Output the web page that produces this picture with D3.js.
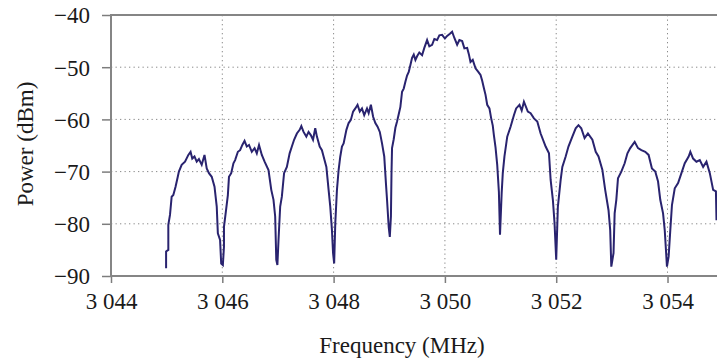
<!DOCTYPE html>
<html>
<head>
<meta charset="utf-8">
<script src="https://cdn.jsdelivr.net/npm/d3@7/dist/d3.min.js"></script>
<style>
  body { margin: 0; background: #fff; }
  #chart text { font-family: "Liberation Serif", "Times New Roman", serif; fill: #1a1a1a; }
</style>
</head>
<body>
<div id="chart"></div>
<script>
/** Spectrum trace */
const freqMHz = [
  3044.99, 3044.99, 3045.03, 3045.03, 3045.06, 3045.09, 3045.12, 3045.16, 3045.20, 3045.22,
  3045.27, 3045.33, 3045.39, 3045.43, 3045.46, 3045.50, 3045.54, 3045.58, 3045.63, 3045.68,
  3045.72, 3045.76, 3045.81, 3045.86, 3045.90, 3045.92, 3045.96, 3045.98, 3046.01, 3046.03,
  3046.03, 3046.06, 3046.10, 3046.12, 3046.16, 3046.20, 3046.23, 3046.28, 3046.32, 3046.36,
  3046.40, 3046.44, 3046.48, 3046.53, 3046.58, 3046.62, 3046.66, 3046.71, 3046.76, 3046.83,
  3046.88, 3046.92, 3046.95, 3046.97, 3046.99, 3047.01, 3047.04, 3047.07, 3047.11, 3047.16,
  3047.21, 3047.25, 3047.29, 3047.34, 3047.39, 3047.42, 3047.46, 3047.51, 3047.55, 3047.59,
  3047.63, 3047.67, 3047.70, 3047.75, 3047.79, 3047.82, 3047.87, 3047.91, 3047.94, 3047.97,
  3047.99, 3048.01, 3048.03, 3048.06, 3048.09, 3048.12, 3048.15, 3048.18, 3048.23, 3048.27,
  3048.31, 3048.35, 3048.39, 3048.43, 3048.47, 3048.51, 3048.55, 3048.60, 3048.63, 3048.67,
  3048.71, 3048.75, 3048.79, 3048.83, 3048.87, 3048.91, 3048.94, 3048.96, 3048.99, 3049.01,
  3049.03, 3049.04, 3049.05, 3049.08, 3049.11, 3049.14, 3049.17, 3049.20, 3049.23, 3049.26,
  3049.29, 3049.32, 3049.35, 3049.38, 3049.41, 3049.44, 3049.47, 3049.50, 3049.54, 3049.59,
  3049.63, 3049.68, 3049.72, 3049.77, 3049.81, 3049.86, 3049.90, 3049.95, 3050.00, 3050.04,
  3050.09, 3050.13, 3050.17, 3050.22, 3050.26, 3050.31, 3050.35, 3050.40, 3050.43, 3050.46,
  3050.50, 3050.55, 3050.60, 3050.64, 3050.67, 3050.70, 3050.73, 3050.76, 3050.80, 3050.83,
  3050.86, 3050.88, 3050.91, 3050.94, 3050.97, 3050.99,
  3051.02, 3051.04, 3051.07, 3051.12, 3051.18, 3051.24, 3051.28, 3051.34, 3051.38, 3051.42,
  3051.49, 3051.54, 3051.60, 3051.66, 3051.72, 3051.81, 3051.87, 3051.90, 3051.94, 3051.97,
  3052.00, 3052.03, 3052.08, 3052.11, 3052.17, 3052.22, 3052.29, 3052.35, 3052.40, 3052.45,
  3052.51, 3052.57, 3052.65, 3052.71, 3052.76, 3052.83, 3052.88, 3052.94, 3052.97, 3052.99,
  3053.03, 3053.05, 3053.08, 3053.11, 3053.17, 3053.23, 3053.28, 3053.33, 3053.41, 3053.47,
  3053.53, 3053.60, 3053.66, 3053.72, 3053.78, 3053.83, 3053.87, 3053.92, 3053.95, 3053.99,
  3054.02, 3054.05, 3054.08, 3054.13, 3054.19, 3054.25, 3054.31, 3054.38, 3054.41, 3054.46,
  3054.52, 3054.58, 3054.64, 3054.70, 3054.76, 3054.82, 3054.87, 3054.88
];
const powerDbm = [
  -88.5, -85.3, -85.0, -80.2, -78.3, -74.8, -74.5, -72.9, -71.0, -70.0,
  -68.7, -68.1, -66.8, -66.2, -67.5, -67.1, -68.1, -67.6, -68.7, -66.8,
  -69.4, -70.3, -71.0, -72.9, -76.7, -81.8, -83.1, -87.6, -87.9, -84.4,
  -80.6, -78.0, -74.5, -71.0, -70.3, -68.4, -67.8, -66.2, -65.9, -64.9,
  -64.1, -65.2, -64.9, -66.2, -65.5, -66.5, -64.9, -66.8, -68.1, -69.7,
  -73.5, -75.4, -78.6, -86.9, -87.9, -83.1, -76.7, -74.8, -70.3, -69.1,
  -66.5, -65.2, -63.9, -62.7, -62.0, -61.3, -62.4, -63.3, -62.4, -63.0,
  -63.9, -61.7, -63.3, -65.2, -65.9, -67.1, -69.1, -73.5, -76.7, -81.2,
  -85.6, -87.6, -79.9, -73.5, -69.7, -67.1, -65.2, -64.6, -62.0, -60.7,
  -60.1, -58.5, -57.9, -57.2, -58.5, -57.9, -59.2, -57.9, -58.8, -57.2,
  -59.5, -60.7, -61.4, -62.4, -64.6, -67.1, -72.2, -75.4, -80.6, -82.5,
  -78.6, -70.5, -65.5, -63.8, -61.6, -60.4, -59.0, -57.6, -54.7, -54.1,
  -52.8, -51.6, -50.9, -49.6, -48.2, -47.6, -48.6, -47.9, -47.2, -47.7,
  -46.3, -44.8, -46.0, -45.7, -44.6, -44.8, -43.9, -43.8, -44.5, -44.0,
  -43.6, -43.2, -44.4, -45.7, -44.8, -45.0, -46.4, -46.3, -47.5, -49.0,
  -48.6, -50.2, -50.9, -51.5, -52.6, -54.0, -55.3, -57.2, -57.9, -59.7,
  -61.2, -63.0, -65.4, -68.7, -73.9, -82.1,
  -74.1, -70.3, -67.1, -63.3, -61.4, -59.2, -57.9, -57.2, -58.3, -56.6,
  -58.5, -58.8, -59.8, -60.4, -62.7, -65.2, -66.5, -71.6, -75.4, -79.9,
  -86.9, -76.7, -71.6, -69.1, -67.1, -65.2, -63.3, -61.7, -61.1, -61.7,
  -63.6, -62.7, -63.9, -66.2, -67.1, -69.7, -73.5, -77.4, -81.2, -88.2,
  -85.6, -78.0, -75.4, -71.3, -70.0, -68.4, -66.5, -65.5, -64.3, -65.5,
  -65.9, -66.2, -66.8, -69.4, -70.0, -71.9, -75.4, -78.0, -81.2, -88.2,
  -86.3, -81.2, -76.4, -73.2, -72.2, -70.3, -68.4, -67.1, -66.2, -67.5,
  -68.1, -67.8, -69.1, -68.1, -70.3, -73.5, -73.8, -79.3
];
const xTicks = [3044, 3046, 3048, 3050, 3052, 3054];
const yTicks = [-90, -80, -70, -60, -50, -40];

/** Graph configs */
const width = 717;
const height = 362;
const margin = { top: 15, right: 0, bottom: 86, left: 111 };

const drawSpectrum = () => {
  const data = freqMHz.map((f, i) => ({ f: f, p: powerDbm[i] }));

  const svg = d3
    .select("#chart")
    .append("svg")
    .attr("width", width)
    .attr("height", height);

  const xScale = d3
    .scaleLinear()
    .domain([3044, 3054.9])
    .range([margin.left, 717.6]);

  const yScale = d3
    .scaleLinear()
    .domain([-90, -40])
    .range([height - margin.bottom, margin.top]);

  /** Dotted grid */
  const grid = svg.append("g").attr("stroke", "#8a8a8a").attr("stroke-dasharray", "1.3,3.2");
  grid
    .selectAll("line.v")
    .data(xTicks.slice(1))
    .enter()
    .append("line")
    .attr("x1", (d) => xScale(d))
    .attr("x2", (d) => xScale(d))
    .attr("y1", yScale(-40))
    .attr("y2", yScale(-90));
  grid
    .selectAll("line.h")
    .data(yTicks.slice(1, -1))
    .enter()
    .append("line")
    .attr("x1", xScale(3044))
    .attr("x2", width)
    .attr("y1", (d) => yScale(d))
    .attr("y2", (d) => yScale(d));

  /** Axes */
  const fmtX = (d) => String(d).replace(/^(\d)(\d{3})$/, "$1 $2");
  const xAxis = d3.axisBottom(xScale).tickValues(xTicks).tickSize(7).tickPadding(9).tickFormat(fmtX);
  const yAxis = d3.axisLeft(yScale).tickValues(yTicks).tickSize(9).tickPadding(12).tickFormat(d3.format("d"));

  const gx = svg
    .append("g")
    .attr("transform", `translate(0, ${yScale(-90)})`)
    .call(xAxis);
  const gy = svg
    .append("g")
    .attr("transform", `translate(${xScale(3044)}, 0)`)
    .call(yAxis);

  [gx, gy].forEach((g) => {
    g.select(".domain").remove();
    g.selectAll(".tick line").attr("stroke", "#7d7d7d").attr("stroke-width", 1.5);
    g.selectAll(".tick text").attr("font-size", 23).attr("fill", "#1a1a1a");
  });
  gx.selectAll(".tick text").attr("dy", "0.72em");
  gy.selectAll(".tick text").attr("dy", "0.34em");

  /** Frame: top, left, bottom */
  const frame = svg.append("g").attr("stroke", "#858585").attr("stroke-width", 2).attr("fill", "none");
  frame.append("line").attr("x1", xScale(3044)).attr("x2", width).attr("y1", yScale(-40)).attr("y2", yScale(-40));
  frame.append("line").attr("x1", xScale(3044)).attr("x2", width).attr("y1", yScale(-90)).attr("y2", yScale(-90));
  frame.append("line").attr("x1", xScale(3044)).attr("x2", xScale(3044)).attr("y1", yScale(-40) - 1).attr("y2", yScale(-90) + 1);

  /** Trace */
  const line = d3
    .line()
    .x((d) => xScale(d.f))
    .y((d) => yScale(d.p));

  svg
    .append("path")
    .datum(data)
    .attr("fill", "none")
    .attr("stroke", "#29236f")
    .attr("stroke-width", 2)
    .attr("stroke-linejoin", "miter")
    .attr("d", line);

  /** Axis titles */
  svg
    .append("text")
    .attr("x", 402)
    .attr("y", 353)
    .attr("text-anchor", "middle")
    .attr("font-size", 23)
    .text("Frequency (MHz)");

  svg
    .append("text")
    .attr("transform", "translate(33, 144) rotate(-90)")
    .attr("text-anchor", "middle")
    .attr("font-size", 23)
    .text("Power (dBm)");
};

drawSpectrum();
</script>
</body>
</html>
